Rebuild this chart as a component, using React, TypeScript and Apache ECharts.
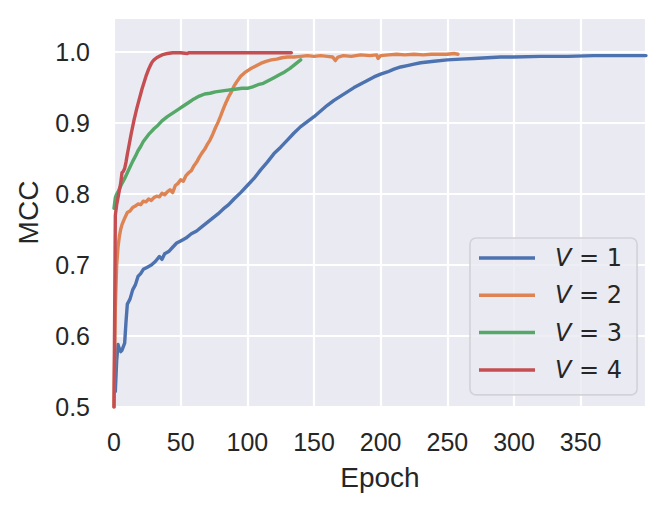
import React, { useEffect, useRef } from "react";
import * as echarts from "echarts";

const seriesNames = ["V = 1", "V = 2", "V = 3", "V = 4"];
const seriesColors = ["#4C72B0", "#DD8452", "#55A868", "#C44E52"];

const v1Epochs = [1, 2, 3, 4, 5, 6, 7, 8, 9, 10, 12, 14, 16, 18, 20, 22, 25, 28, 31, 34, 36, 38, 41, 44, 47, 50, 54, 58, 62, 66, 70, 74, 78, 82, 86, 90, 95, 100, 105, 110, 115, 120, 125, 130, 135, 140, 145, 150, 155, 160, 165, 170, 175, 180, 185, 190, 195, 200, 205, 210, 215, 220, 225, 230, 235, 240, 250, 260, 270, 280, 290, 300, 320, 340, 360, 380, 399];
const v1Mcc = [0.522, 0.565, 0.588, 0.582, 0.578, 0.58, 0.585, 0.59, 0.62, 0.645, 0.652, 0.665, 0.672, 0.684, 0.688, 0.694, 0.697, 0.7, 0.705, 0.712, 0.708, 0.716, 0.719, 0.725, 0.731, 0.734, 0.738, 0.744, 0.748, 0.754, 0.76, 0.766, 0.772, 0.779, 0.785, 0.793, 0.802, 0.812, 0.822, 0.834, 0.845, 0.857, 0.866, 0.876, 0.886, 0.895, 0.902, 0.909, 0.917, 0.925, 0.932, 0.938, 0.944, 0.95, 0.955, 0.96, 0.965, 0.969, 0.972, 0.976, 0.979, 0.981, 0.983, 0.985, 0.986, 0.987, 0.989, 0.99, 0.991, 0.992, 0.993, 0.993, 0.994, 0.994, 0.995, 0.995, 0.995];

const v2Epochs = [0, 1, 2, 3, 4, 5, 6, 8, 10, 12, 14, 16, 18, 20, 22, 24, 26, 28, 30, 32, 34, 36, 38, 40, 42, 44, 46, 48, 50, 52, 54, 56, 58, 60, 62, 64, 66, 68, 70, 72, 74, 76, 78, 80, 82, 84, 86, 88, 90, 92, 95, 98, 102, 106, 110, 114, 118, 122, 126, 130, 135, 140, 145, 150, 155, 160, 164, 166, 168, 172, 178, 185, 192, 197, 198, 200, 206, 212, 218, 225, 232, 238, 244, 250, 255, 258];
const v2Mcc = [0.5, 0.64, 0.7, 0.725, 0.74, 0.75, 0.757, 0.766, 0.774, 0.776, 0.781, 0.783, 0.786, 0.785, 0.79, 0.789, 0.793, 0.791, 0.795, 0.797, 0.796, 0.801, 0.799, 0.803, 0.806, 0.802, 0.812, 0.815, 0.82, 0.818, 0.826, 0.83, 0.833, 0.84, 0.845, 0.852, 0.858, 0.863, 0.87, 0.876, 0.884, 0.893, 0.901, 0.91, 0.92, 0.929, 0.937, 0.944, 0.952, 0.958, 0.966, 0.971, 0.976, 0.98, 0.984, 0.987, 0.989, 0.99, 0.992, 0.993, 0.993, 0.994, 0.995, 0.994, 0.995, 0.994, 0.993, 0.988, 0.993, 0.995, 0.994, 0.996, 0.995, 0.996, 0.991, 0.995, 0.996, 0.997, 0.996, 0.997, 0.996, 0.997, 0.997, 0.997, 0.998, 0.997];

const v3Epochs = [0, 1, 2, 3, 4, 6, 8, 10, 12, 14, 16, 18, 20, 22, 24, 26, 28, 30, 33, 36, 40, 44, 48, 52, 56, 60, 64, 68, 72, 76, 80, 84, 88, 92, 96, 100, 104, 108, 112, 116, 120, 124, 128, 132, 136, 140];
const v3Mcc = [0.78, 0.795, 0.8, 0.803, 0.807, 0.815, 0.822, 0.83, 0.838, 0.846, 0.853, 0.861, 0.867, 0.874, 0.879, 0.884, 0.888, 0.892, 0.897, 0.903, 0.909, 0.914, 0.919, 0.924, 0.929, 0.934, 0.938, 0.941, 0.942, 0.944, 0.945, 0.946, 0.947, 0.948, 0.949, 0.949, 0.951, 0.954, 0.956, 0.96, 0.964, 0.968, 0.972, 0.977, 0.983, 0.989];

const v4Epochs = [0, 1, 2, 3, 4, 5, 6, 7, 8, 9, 10, 11, 12, 13, 14, 15, 16, 17, 18, 19, 20, 21, 22, 23, 24, 25, 26, 27, 28, 29, 30, 32, 34, 36, 38, 40, 44, 50, 55, 56, 60, 70, 80, 90, 100, 110, 120, 133];
const v4Mcc = [0.5, 0.77, 0.785, 0.795, 0.805, 0.815, 0.83, 0.832, 0.836, 0.845, 0.856, 0.866, 0.876, 0.886, 0.895, 0.904, 0.912, 0.92, 0.927, 0.934, 0.941, 0.948, 0.954, 0.96, 0.966, 0.971, 0.976, 0.98, 0.984, 0.987, 0.989, 0.992, 0.994, 0.996, 0.997, 0.998, 0.999, 0.999, 0.998, 0.999, 0.999, 0.999, 0.999, 0.999, 0.999, 0.999, 0.999, 0.999];

const xTickInterval = 50;
const yTickInterval = 0.1;

const allEpochs = [v1Epochs, v2Epochs, v3Epochs, v4Epochs];
const allMcc = [v1Mcc, v2Mcc, v3Mcc, v4Mcc];

const FONT = "'Liberation Sans', Arial, sans-serif";

export default function App() {
  const ref = useRef<HTMLDivElement>(null);
  useEffect(() => {
    if (!ref.current) return;
    const chart = echarts.init(ref.current, undefined, { renderer: "svg" });
    const series = seriesNames.map((name, i) => ({
      name,
      type: "line",
      showSymbol: false,
      symbol: "none",
      data: allEpochs[i].map((e, j) => [e, allMcc[i][j]]),
      lineStyle: { color: seriesColors[i], width: 3.4, cap: "round", join: "round" },
      itemStyle: { color: seriesColors[i] },
      z: 2 + i,
    }));
    chart.setOption({
      animation: false,
      backgroundColor: "#ffffff",
      grid: {
        left: 114,
        top: 18,
        right: 19,
        bottom: 102,
        show: true,
        backgroundColor: "#EAEAF2",
        borderWidth: 0,
      },
      xAxis: {
        type: "value",
        min: 0,
        max: 399,
        interval: xTickInterval,
        name: "Epoch",
        nameLocation: "middle",
        nameGap: 56,
        nameTextStyle: { fontFamily: FONT, fontSize: 28, color: "#262626" },
        axisLine: { show: false },
        axisTick: { show: false },
        axisLabel: {
          showMaxLabel: false,
          fontFamily: FONT,
          fontSize: 25,
          color: "#262626",
          margin: 22,
        },
        splitLine: { show: true, lineStyle: { color: "#ffffff", width: 2.2 } },
      },
      yAxis: {
        type: "value",
        min: 0.5,
        max: 1.048,
        interval: yTickInterval,
        name: "MCC",
        nameLocation: "middle",
        nameGap: 72,
        nameTextStyle: { fontFamily: FONT, fontSize: 28, color: "#262626" },
        axisLine: { show: false },
        axisTick: { show: false },
        axisLabel: {
          showMaxLabel: false,
          fontFamily: FONT,
          fontSize: 25,
          color: "#262626",
          margin: 24,
          formatter: (v: number) => v.toFixed(1),
        },
        splitLine: { show: true, lineStyle: { color: "#ffffff", width: 2.2 } },
      },
      legend: {
        orient: "vertical",
        left: 470,
        top: 238,
        padding: [6, 15, 11, 9],
        itemGap: 9.3,
        itemWidth: 56,
        itemHeight: 3.5,
        icon: "rect",
        backgroundColor: "rgba(234,234,242,0.8)",
        borderColor: "#d2d2d8",
        borderWidth: 1.6,
        borderRadius: 6,
        data: seriesNames,
        formatter: (name: string) => {
          const parts = name.split(" = ");
          return "{i|" + parts[0] + "}{n| = " + parts[1] + "}";
        },
        textStyle: {
          padding: [0, 0, 0, 15],
          color: "#262626",
          fontFamily: "'DejaVu Sans', sans-serif",
          fontSize: 24,
          lineHeight: 28,
          rich: {
            i: { fontStyle: "italic", fontFamily: "'DejaVu Sans', sans-serif", fontSize: 24, lineHeight: 28, color: "#262626" },
            n: { fontFamily: "'DejaVu Sans', sans-serif", fontSize: 24, lineHeight: 28, color: "#262626" },
          },
        },
      },
      series,
    });
    return () => chart.dispose();
  }, []);
  return (
    <div
      ref={ref}
      style={{ position: "fixed", left: 0, top: 0, width: 665, height: 509 }}
    />
  );
}
